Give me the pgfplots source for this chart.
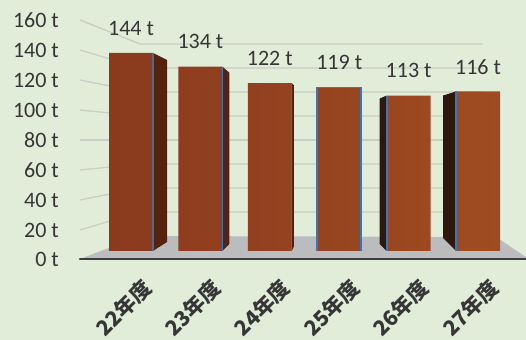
\documentclass[border=0pt]{standalone}
\usepackage{fontspec}
\setmainfont{Carlito}
\newfontfamily\cjk{Noto Sans CJK JP}
\usepackage{pgfplots}
\pgfplotsset{compat=1.18}

\definecolor{bgcol}{HTML}{E2EDD9}
\definecolor{labcol}{HTML}{363636}
\definecolor{gridcol}{HTML}{C8CEC3}
\definecolor{floorcol}{HTML}{BBBCBE}
\definecolor{basecol}{HTML}{3D3D3D}
\definecolor{barL}{HTML}{8A3A1E}
\definecolor{barR}{HTML}{A04C22}
\definecolor{sideR}{HTML}{55220F}
\definecolor{sideL}{HTML}{2C180D}
\definecolor{edgeblue}{HTML}{3577BE}
\definecolor{edgegrey}{HTML}{4A6A96}

\begin{document}
\begin{tikzpicture}
\path[use as bounding box, fill=bgcol] (0,0) rectangle (526bp,340bp);
\begin{axis}[
  at={(80bp,80bp)}, anchor=south west,
  scale only axis, width=446bp, height=260bp,
  xmin=-0.735, xmax=5.6915, ymin=-6.6, ymax=182.49,
  clip=false,
  axis line style={draw=none},
  tick style={draw=none},
  major tick length=0pt,
  /pgf/number format/assume math mode=true,
  xtick={0,1,2,3,4,5},
  xticklabels={22年度,23年度,24年度,25年度,26年度,27年度},
  xticklabel style={font=\cjk\bfseries\fontsize{21bp}{24bp}\selectfont,
    text=labcol, rotate=45, anchor=north east, inner sep=0pt,
    xshift=-5bp, yshift=-18bp},
  % tick marks sit on the front plane, which is scaled 1.5/1.375 of the bar plane
  ytick={-6.55,15.22,37.04,58.85,80.67,102.49,124.31,146.13,167.94},
  yticklabels={0 t,20 t,40 t,60 t,80 t,100 t,120 t,140 t,160 t},
  yticklabel style={font=\fontsize{22bp}{26bp}\selectfont,
    text=labcol, anchor=east, inner sep=0pt, xshift=-21bp},
]

% receding gridlines: side wall, then back wall
\addplot[gridcol, line width=1.3bp] coordinates {(-0.735,15.22) (0.13,28.31) (5.07,28.31)};
\addplot[gridcol, line width=1.3bp] coordinates {(-0.735,37.04) (0.13,45.76) (5.07,45.76)};
\addplot[gridcol, line width=1.3bp] coordinates {(-0.735,58.85) (0.13,63.22) (5.07,63.22)};
\addplot[gridcol, line width=1.3bp] coordinates {(-0.735,80.67) (0.13,80.67) (5.07,80.67)};
\addplot[gridcol, line width=1.3bp] coordinates {(-0.735,102.49) (0.13,98.12) (5.07,98.12)};
\addplot[gridcol, line width=1.3bp] coordinates {(-0.735,124.31) (0.13,115.58) (5.07,115.58)};
\addplot[gridcol, line width=1.3bp] coordinates {(-0.735,146.13) (0.13,133.03) (5.07,133.03)};
\addplot[gridcol, line width=1.3bp] coordinates {(-0.735,167.94) (0.13,150.49) (5.07,150.49)};

% floor
\addplot[fill=floorcol, draw=none] coordinates
  {(-0.735,-5.87) (0.13,10.86) (5.26,10.13) (5.69,-4.42) (5.69,-5.87)} --cycle;
% base line
\addplot[basecol, line width=2.6bp, line cap=round] coordinates {(-0.735,-5.87) (5.69,-5.87)};

% side faces of the bars
\addplot[fill=sideR, draw=none] coordinates {(0.317,0) (0.519,6.5) (0.519,138.9) (0.317,144)} --cycle;
\addplot[fill=sideR, draw=none] coordinates {(1.317,0) (1.418,5.1) (1.418,129.6) (1.317,134)} --cycle;
\addplot[fill=sideR, draw=none] coordinates {(2.317,0) (2.345,3) (2.345,120.5) (2.317,122)} --cycle;
\addplot[fill=sideL, draw=none] coordinates {(3.683,0) (3.582,5.1) (3.582,110.8) (3.683,113)} --cycle;
\addplot[fill=sideL, draw=none] coordinates {(4.683,0) (4.496,9.5) (4.496,113) (4.683,116)} --cycle;

% front faces
\addplot[ybar, bar width=44bp, draw=none, left color=barL, right color=barR,
  nodes near coords={\pgfmathprintnumber{\pgfplotspointmeta} t},
  every node near coord/.append style={font=\fontsize{22bp}{26bp}\selectfont,
    text=labcol, anchor=center, yshift=24.75bp}]
  coordinates {(0,144) (1,134) (2,122) (3,119) (4,113) (5,116)};

% bar outlines
\addplot[edgegrey, line width=1.8bp] coordinates {(0.317,0) (0.317,144)};
\addplot[edgeblue, line width=1.8bp] coordinates {(1.317,0) (1.317,134)};
\addplot[edgeblue!50!barR, line width=1bp] coordinates {(2.317,0) (2.317,122)};
\addplot[edgeblue, line width=1.5bp] coordinates {(2.683,0) (2.683,119) (3.317,119) (3.317,0)};
\addplot[edgeblue, line width=1.8bp] coordinates {(3.683,0) (3.683,113)};
\addplot[edgeblue, line width=1.8bp] coordinates {(4.683,0) (4.683,116)};
\end{axis}
\end{tikzpicture}
\end{document}
